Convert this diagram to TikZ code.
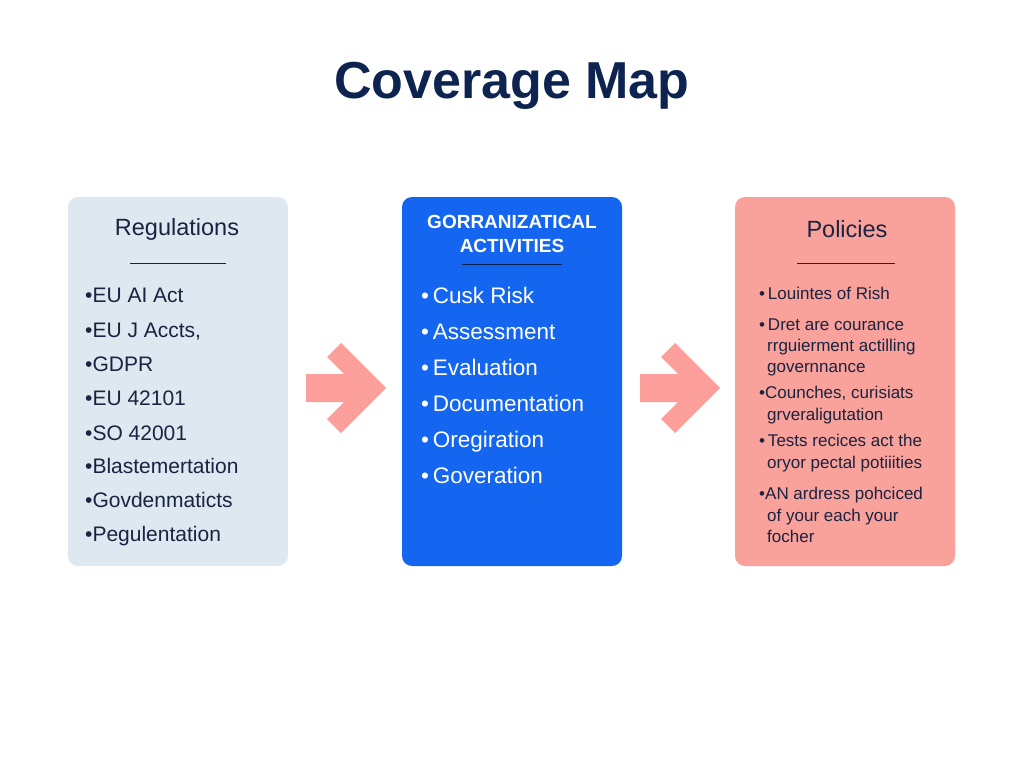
\documentclass[tikz,border=0pt]{standalone}
\usepackage{fontspec}
\setmainfont{Liberation Sans}
\definecolor{navy}{HTML}{0E2450}
\definecolor{regfill}{HTML}{DDE8F0}
\definecolor{actfill}{HTML}{1466F0}
\definecolor{polfill}{HTML}{F9A19B}
\definecolor{arrowc}{HTML}{FC9E9A}
\definecolor{txt}{HTML}{1A2340}
\tikzset{
  panel/.style={rounded corners=10pt, minimum width=220pt, minimum height=369pt, inner sep=0pt},
  heading/.style={font=\fontsize{23.5}{26}\selectfont, text=txt},
  rule/.style={line width=0.9pt, draw=txt},
  regitem/.style={anchor=base west, font=\fontsize{21}{24}\selectfont, text=txt, inner sep=0pt},
  actitem/.style={anchor=base west, font=\fontsize{22.5}{25}\selectfont, text=white, inner sep=0pt},
  politem/.style={anchor=base west, font=\fontsize{17}{20}\selectfont, text=txt, inner sep=0pt},
  chevron/.style={fill=arrowc, draw=none}
}
\begin{document}
\begin{tikzpicture}[x=1pt,y=-1pt]
\useasboundingbox (0,0) rectangle (1024,768);
% title
\node[font=\fontsize{52}{60}\selectfont\bfseries, text=navy] (title) at (512,86) {Coverage Map};
% panels
\node[panel, fill=regfill] (reg) at (178,381.5) {};
\node[panel, fill=actfill] (act) at (512,381.5) {};
\node[panel, fill=polfill] (pol) at (845,381.5) {};
% Regulations
\node[heading] (regh) at (177,229) {Regulations};
\draw[rule] (130,263) -- (226,263);
\node[regitem] (r1) at (85,302) {•EU AI Act};
\node[regitem] (r2) at (85,337) {•EU J Accts,};
\node[regitem] (r3) at (85,371) {•GDPR};
\node[regitem] (r4) at (85,405) {•EU 42101};
\node[regitem] (r5) at (85,440) {•SO 42001};
\node[regitem] (r6) at (85,473) {•Blastemertation};
\node[regitem] (r7) at (85,507) {•Govdenmaticts};
\node[regitem] (r8) at (85,541) {•Pegulentation};
% Activities
\node[font=\fontsize{19}{23.5}\selectfont\bfseries, text=white, align=center] (acth) at (512,234) {GORRANIZATICAL\\ACTIVITIES};
\draw[line width=0.9pt, draw=navy] (462,264) -- (562,264);
\node[actitem] (a1) at (421,303) {•\,Cusk Risk};
\node[actitem] (a2) at (421,339) {•\,Assessment};
\node[actitem] (a3) at (421,375) {•\,Evaluation};
\node[actitem] (a4) at (421,411) {•\,Documentation};
\node[actitem] (a5) at (421,447) {•\,Oregiration};
\node[actitem] (a6) at (421,483.5) {•\,Goveration};
% Policies
\node[heading] (polh) at (847,229) {Policies};
\draw[rule] (797,263) -- (895,263);
\node[politem] (p1) at (759,299) {•\,Louintes of Rish};
\node[politem] (p2a) at (759,330) {•\,Dret are courance};
\node[politem] (p2b) at (767,351) {rrguierment actilling};
\node[politem] (p2c) at (767,372) {governnance};
\node[politem] (p3a) at (759,398) {•Counches, curisiats};
\node[politem] (p3b) at (767,420) {grveraligutation};
\node[politem] (p4a) at (759,446) {•\,Tests recices act the};
\node[politem] (p4b) at (767,468) {oryor pectal potiiities};
\node[politem] (p5a) at (759,499) {•AN ardress pohciced};
\node[politem] (p5b) at (767,521) {of your each your};
\node[politem] (p5c) at (767,542) {focher};
% arrows between panels
\foreach \dx/\nm in {0/one,334/two}{
  \begin{scope}[shift={(\dx,0)}]
    \fill[chevron] (306,374) -- (344,374) -- (327,357) -- (341,343) -- (386,388)
      -- (341,433) -- (327,419) -- (344,402) -- (306,402) -- cycle;
  \end{scope}
}
\end{tikzpicture}
\end{document}
